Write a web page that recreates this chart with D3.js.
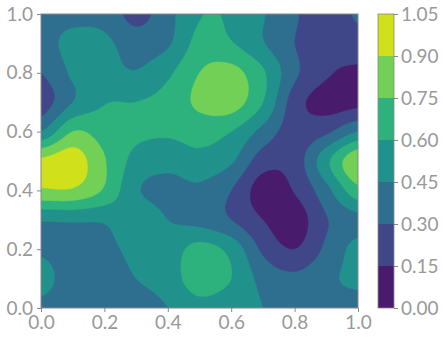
<!DOCTYPE html>
<html><head><meta charset="utf-8">
<script src="https://cdn.jsdelivr.net/npm/d3@7"></script>
<style>body{margin:0;background:#fff}svg text{font-family:Lato,"DejaVu Sans",sans-serif}</style>
</head><body><svg id="c" width="443" height="341"></svg>
<script>
// grid values: rows from y=1.0 (top) down to y=0.0, columns x=0.0..1.0
const xs = [0,0.1,0.2,0.3,0.4,0.5,0.6,0.7,0.8,0.9,1.0];
const ys = [1.0,0.9,0.8,0.7,0.6,0.5,0.4,0.3,0.2,0.1,0.0];
const row10 = [0.40,0.40,0.40,0.25,0.40,0.59,0.58,0.46,0.32,0.20,0.32];
const row09 = [0.38,0.50,0.48,0.38,0.43,0.65,0.61,0.46,0.30,0.20,0.24];
const row08 = [0.30,0.47,0.50,0.46,0.57,0.75,0.80,0.62,0.33,0.17,0.12];
const row07 = [0.22,0.45,0.59,0.60,0.65,0.78,0.82,0.60,0.22,0.09,0.10];
const row06 = [0.45,0.75,0.68,0.63,0.62,0.66,0.60,0.40,0.22,0.27,0.45];
const row05 = [0.93,0.98,0.76,0.55,0.50,0.55,0.47,0.22,0.22,0.56,0.88];
const row04 = [0.88,0.88,0.73,0.47,0.40,0.42,0.30,0.08,0.16,0.40,0.70];
const row03 = [0.46,0.47,0.47,0.55,0.45,0.40,0.30,0.15,0.07,0.29,0.40];
const row02 = [0.43,0.38,0.40,0.50,0.52,0.65,0.55,0.27,0.15,0.33,0.50];
const row01 = [0.52,0.35,0.36,0.45,0.52,0.68,0.60,0.40,0.33,0.42,0.48];
const row00 = [0.40,0.35,0.35,0.38,0.45,0.55,0.50,0.45,0.32,0.40,0.40];
const levels = [0,0.15,0.30,0.45,0.60,0.75,0.90,1.05];
const axisTicks = [0,0.2,0.4,0.6,0.8,1.0];
const cbLabels = ["0.00","0.15","0.30","0.45","0.60","0.75","0.90","1.05"];

const grid = [row10,row09,row08,row07,row06,row05,row04,row03,row02,row01,row00];
const G = grid.length, N = 111; // fine render grid
function cr(p0,p1,p2,p3,t){return 0.5*(2*p1+(-p0+p2)*t+(2*p0-5*p1+4*p2-p3)*t*t+(-p0+3*p1-3*p2+p3)*t*t*t);}
function at(r,c){r=Math.max(0,Math.min(G-1,r));c=Math.max(0,Math.min(G-1,c));return grid[r][c];}
function sample(fr,fc){
  const r=Math.min(Math.floor(fr),G-2), c=Math.min(Math.floor(fc),G-2), tr=fr-r, tc=fc-c;
  const rows=[];
  for(let k=-1;k<=2;k++) rows.push(cr(at(r+k,c-1),at(r+k,c),at(r+k,c+1),at(r+k,c+2),tc));
  return cr(rows[0],rows[1],rows[2],rows[3],tr);
}
const values = new Array(N*N);
for(let j=0;j<N;j++)for(let i=0;i<N;i++){
  values[j*N+i]=sample(j*(G-1)/(N-1), i*(G-1)/(N-1));
}

const L=41,R=358,T=14,B=308;
const svg=d3.select("#c");
const x=d3.scaleLinear().domain([0,1]).range([L,R]);
const y=d3.scaleLinear().domain([0,1]).range([B,T]);
const gx=d3.scaleLinear().domain([0.5,N-0.5]).range([L,R]);
const gy=d3.scaleLinear().domain([0.5,N-0.5]).range([T,B]);
const color=t=>d3.interpolateViridis((t+0.075)/1.05);

svg.append("clipPath").attr("id","cp").append("rect").attr("x",L).attr("y",T).attr("width",R-L).attr("height",B-T);
const contours=d3.contours().size([N,N]).thresholds(levels.slice(0,-1))(values);
const proj=d3.geoTransform({point:function(px,py){this.stream.point(gx(px),gy(py));}});
const path=d3.geoPath(proj);
svg.append("g").attr("clip-path","url(#cp)").selectAll("path").data(contours).join("path")
  .attr("d",path).attr("fill",d=>color(d.value)).attr("stroke",d=>color(d.value)).attr("stroke-width",0.5);

const grey="#999999";
svg.append("rect").attr("x",L).attr("y",T).attr("width",R-L).attr("height",B-T).attr("fill","none").attr("stroke","#888").attr("stroke-width",1);
const fmt=d3.format(".1f");
const xa=svg.append("g").attr("transform",`translate(0,${B})`).call(d3.axisBottom(x).tickValues(axisTicks).tickFormat(fmt).tickSize(4).tickPadding(4));
const ya=svg.append("g").attr("transform",`translate(${L},0)`).call(d3.axisLeft(y).tickValues(axisTicks).tickFormat(fmt).tickSize(4).tickPadding(4));
[xa,ya].forEach(a=>{a.select(".domain").remove();a.selectAll("line").attr("stroke","#888");a.selectAll("text").attr("fill",grey).style("font-size","19px").style("font-family","Lato");});

// colorbar
const cbx=378,cbw=16;
const cy=d3.scaleLinear().domain([0,1.05]).range([B,T]);
svg.append("g").selectAll("rect").data(levels.slice(0,-1)).join("rect")
  .attr("x",cbx).attr("width",cbw).attr("y",d=>cy(d+0.15)).attr("height",d=>cy(d)-cy(d+0.15)).attr("fill",d=>color(d));
svg.append("rect").attr("x",cbx).attr("y",T).attr("width",cbw).attr("height",B-T).attr("fill","none").attr("stroke","#888").attr("stroke-width",0.8);
const ca=svg.append("g").attr("transform",`translate(${cbx+cbw},0)`).call(d3.axisRight(cy).tickValues(levels).tickFormat((d,i)=>cbLabels[i]).tickSize(4).tickPadding(3));
ca.select(".domain").remove();ca.selectAll("line").attr("stroke","#888");ca.selectAll("text").attr("fill",grey).style("font-size","19px").style("font-family","Lato");
</script></body></html>
